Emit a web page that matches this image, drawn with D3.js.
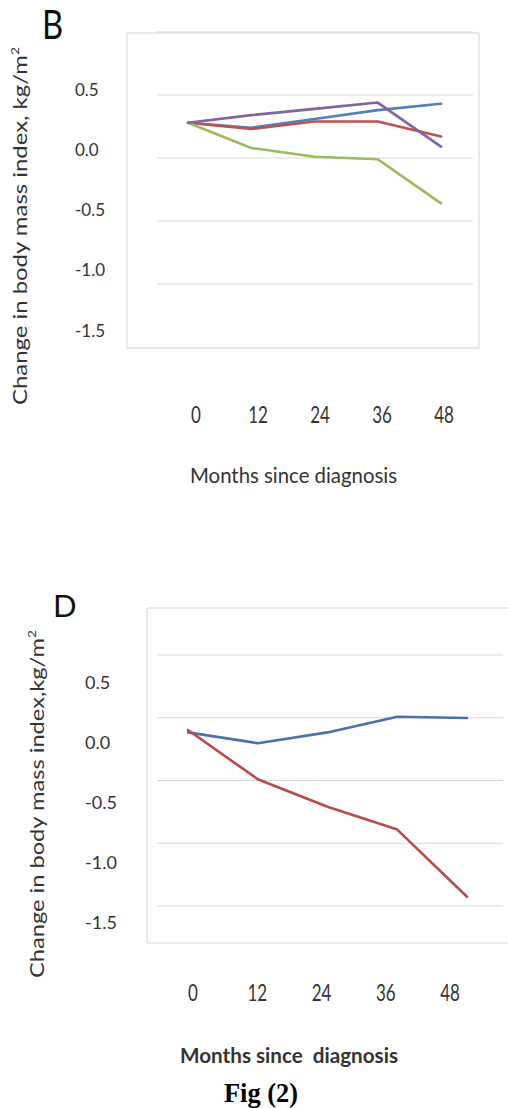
<!DOCTYPE html>
<html>
<head>
<meta charset="utf-8">
<script src="https://cdn.jsdelivr.net/npm/d3@7"></script>
<style>
  html, body { margin: 0; padding: 0; background: #fff; }
  svg { display: block; }
  text { font-family: Lato, "Open Sans", sans-serif; fill: #333; }
</style>
</head>
<body>
<svg id="chart" width="508" height="1108"></svg>
<script>
// ---------- data ----------
const months = [0, 12, 24, 36, 48];
const monthLabels = ["0", "12", "24", "36", "48"];
const yTickValues = [0.5, 0.0, -0.5, -1.0, -1.5];
const yTickLabels = ["0.5", "0.0", "-0.5", "-1.0", "-1.5"];

// Panel B
const bBlue   = [0.28, 0.24, 0.31, 0.38, 0.43];
const bRed    = [0.28, 0.23, 0.29, 0.29, 0.17];
const bGreen  = [0.28, 0.08, 0.01, -0.01, -0.36];
const bPurple = [0.28, 0.34, 0.39, 0.44, 0.09];
const bGrid   = [1.0, 0.5, 0.0, -0.5, -1.0];

// Panel D
const dBlue = [0.08, -0.01, 0.08, 0.21, 0.20];
const dRed  = [0.10, -0.31, -0.54, -0.73, -1.29];
const dGrid = [0.5, 0.0, -0.5, -1.0, -1.5];

const seriesColors = { blue: "#4f81bd", red: "#c0504d", green: "#9bbb59", purple: "#8064a2" };

const svg = d3.select("#chart");
const gridColor = "#d9d9d9";

function drawLines(g, x, y, seriesList) {
  const line = d3.line().x((d, i) => x(months[i])).y(d => y(d));
  seriesList.forEach(s => {
    g.append("path").datum(s.values)
      .attr("d", line)
      .attr("fill", "none")
      .attr("stroke", s.color)
      .attr("stroke-width", 2.6)
      .attr("stroke-linejoin", "round")
      .attr("stroke-linecap", "round");
  });
}

// ================= Panel B =================
(function () {
  const box = { l: 127, r: 479, t: 33, b: 348 };
  const x = d3.scaleLinear().domain([0, 48]).range([188, 441]);
  const y = d3.scaleLinear().domain([-1.5, 1.0]).range([347, 32]);
  const yLab = d3.scaleLinear().domain([0.5, -1.5]).range([89, 330]);
  const xLab = d3.scaleLinear().domain([0, 48]).range([196, 444]);
  const g = svg.append("g");

  g.append("rect").attr("x", box.l).attr("y", box.t)
    .attr("width", box.r - box.l).attr("height", box.b - box.t)
    .attr("fill", "#fff").attr("stroke", gridColor).attr("stroke-width", 1.2);

  g.selectAll(".grid").data(bGrid).join("line")
    .attr("x1", 157).attr("x2", 473)
    .attr("y1", d => y(d)).attr("y2", d => y(d))
    .attr("stroke", d => d === 1.0 ? "#cfcfcf" : gridColor).attr("stroke-width", 1.2);

  drawLines(g, x, y, [
    { values: bBlue, color: seriesColors.blue },
    { values: bRed, color: seriesColors.red },
    { values: bGreen, color: seriesColors.green },
    { values: bPurple, color: seriesColors.purple }
  ]);

  g.selectAll(".ylab").data(yTickValues).join("text")
    .attr("x", 75).attr("y", d => yLab(d))
    .attr("dominant-baseline", "central")
    .attr("font-size", 17)
    .text((d, i) => yTickLabels[i]);

  g.selectAll(".xlab").data(months).join("text")
    .attr("transform", d => `translate(${xLab(d)},423) scale(1,1.3)`)
    .attr("text-anchor", "middle")
    .attr("font-size", 17)
    .text((d, i) => monthLabels[i]);

  g.append("text").attr("x", 190).attr("y", 483)
    .attr("font-size", 21)
    .attr("textLength", 207).attr("lengthAdjust", "spacingAndGlyphs")
    .text("Months since diagnosis");

  const yt = g.append("text")
    .attr("transform", "translate(27,405) rotate(-90)")
    .attr("font-size", 19)
    .attr("textLength", 358).attr("lengthAdjust", "spacingAndGlyphs");
  yt.append("tspan").text("Change in body mass index, kg/m");
  yt.append("tspan").attr("dy", -8).attr("font-size", 11).text("2");

  g.append("text").attr("transform", "translate(42,39) scale(0.82,1)")
    .attr("font-size", 40).attr("fill", "#111").style("fill", "#111").text("B");
})();

// ================= Panel D =================
(function () {
  const box = { l: 147, r: 508, t: 608, b: 943 };
  const x = d3.scaleLinear().domain([0, 48]).range([188, 467]);
  const y = d3.scaleLinear().domain([0.5, -1.5]).range([682, 922]);
  const grid = d3.scaleLinear().domain([0.5, -1.5]).range([655, 906]);
  const xLab = d3.scaleLinear().domain([0, 48]).range([193, 450]);
  const g = svg.append("g");

  g.append("line").attr("x1", box.l).attr("x2", box.r).attr("y1", box.t).attr("y2", box.t)
    .attr("stroke", gridColor).attr("stroke-width", 1.2);
  g.append("line").attr("x1", box.l).attr("x2", box.r).attr("y1", box.b).attr("y2", box.b)
    .attr("stroke", gridColor).attr("stroke-width", 1.2);
  g.append("line").attr("x1", box.l).attr("x2", box.l).attr("y1", box.t).attr("y2", box.b)
    .attr("stroke", gridColor).attr("stroke-width", 1.2);

  g.selectAll(".grid").data(dGrid).join("line")
    .attr("x1", 157).attr("x2", 503)
    .attr("y1", d => grid(d)).attr("y2", d => grid(d))
    .attr("stroke", gridColor).attr("stroke-width", 1.2);

  drawLines(g, x, y, [
    { values: dBlue, color: "#4a72aa" },
    { values: dRed, color: "#b94a48" }
  ]);

  g.selectAll(".ylab").data(yTickValues).join("text")
    .attr("x", 85).attr("y", d => y(d))
    .attr("dominant-baseline", "central")
    .attr("font-size", 18)
    .text((d, i) => yTickLabels[i]);

  g.selectAll(".xlab").data(months).join("text")
    .attr("transform", d => `translate(${xLab(d)},1001) scale(1,1.3)`)
    .attr("text-anchor", "middle")
    .attr("font-size", 17)
    .text((d, i) => monthLabels[i]);

  g.append("text").attr("x", 180).attr("y", 1063)
    .attr("font-size", 21).attr("font-weight", "bold")
    .style("white-space", "pre")
    .attr("textLength", 218).attr("lengthAdjust", "spacingAndGlyphs")
    .text("Months since  diagnosis");

  const yt = g.append("text")
    .attr("transform", "translate(44,978) rotate(-90)")
    .attr("font-size", 19)
    .attr("textLength", 348).attr("lengthAdjust", "spacingAndGlyphs");
  yt.append("tspan").text("Change in body mass index,kg/m");
  yt.append("tspan").attr("dy", -8).attr("font-size", 11).text("2");

  g.append("text").attr("x", 53).attr("y", 617)
    .attr("font-size", 31).style("fill", "#111").text("D");

  g.append("text").attr("x", 224).attr("y", 1102)
    .attr("font-size", 28).attr("font-weight", "bold")
    .style("font-family", "'Liberation Serif', 'DejaVu Serif', serif").style("fill", "#000")
    .attr("textLength", 74).attr("lengthAdjust", "spacingAndGlyphs")
    .text("Fig (2)");
})();
</script>
</body>
</html>
